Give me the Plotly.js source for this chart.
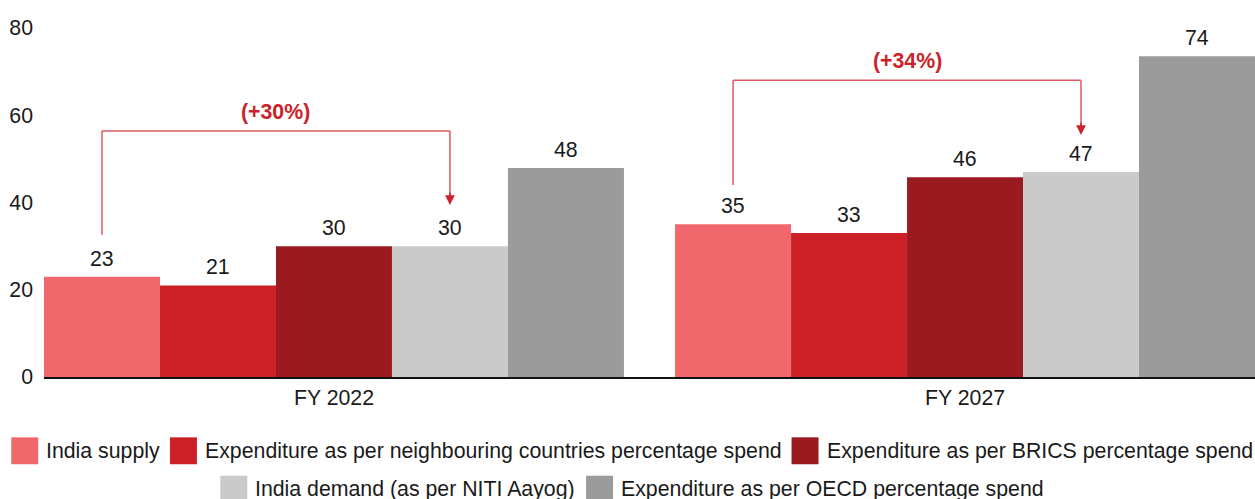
<!DOCTYPE html>
<html>
<head>
<meta charset="utf-8">
<script src="https://cdn.plot.ly/plotly-3.0.1.min.js"></script>
<style>html,body{margin:0;padding:0;background:#fff;}#chart{width:1255px;height:499px;}</style>
</head>
<body>
<div id="chart"></div>
<script>
// ---- data ----
const categories = ['FY 2022', 'FY 2027'];
const seriesNames = [
  'India supply',
  'Expenditure as per neighbouring countries percentage spend',
  'Expenditure as per BRICS percentage spend',
  'India demand (as per NITI Aayog)',
  'Expenditure as per OECD percentage spend'
];
const indiaSupply = [23, 35];
const neighbourSpend = [21, 33];
const bricsSpend = [30, 45.8];
const indiaDemand = [30, 47];
const oecdSpend = [47.9, 73.5];
const seriesColors = ['#f0686b', '#cc2027', '#9a1a20', '#cacaca', '#9b9b9b'];
const growthLabels = ['(+30%)', '(+34%)'];
const yTicks = [0, 20, 40, 60, 80];

const seriesValues = [indiaSupply, neighbourSpend, bricsSpend, indiaDemand, oecdSpend];

// ---- layout geometry ----
const W = 1255, H = 499;
const M = {l: 44, r: 0, t: 27.5, b: 121.5};
const plotW = W - M.l - M.r, plotH = H - M.t - M.b;
const groupW = 0.919;               // fraction of category occupied by bars
const nS = seriesValues.length;
const FONT = 'Liberation Sans, Arial, sans-serif';
const FS = 21.3;
const TXT = '#1a1a1a';

function barX(cat, s) { return cat - groupW / 2 + (s + 0.5) * groupW / nS; }
function pxToPaperX(px) { return (px - M.l) / plotW; }
function pxToPaperY(py) { return (H - M.b - py) / plotH; }

const traces = seriesValues.map((vals, s) => ({
  type: 'bar',
  name: seriesNames[s],
  x: categories,
  y: vals,
  marker: {color: seriesColors[s], line: {width: 0}},
  hoverinfo: 'skip'
}));

const annotations = [];
const shapes = [];

// value labels
seriesValues.forEach((vals, s) => {
  vals.forEach((v, c) => {
    annotations.push({
      x: barX(c, s), y: v, xref: 'x', yref: 'y',
      text: String(Math.round(v)), showarrow: false, yanchor: 'bottom', yshift: 4,
      font: {family: FONT, size: FS, color: TXT}
    });
  });
});

// growth brackets: India supply -> India demand
const bracketLift = [9.6, 9.0];   // start offset above supply bar
const tipLift = [9.4, 8.5];       // arrow tip offset above demand bar
const bracketTop = [56.4, 68.0];
const lineCol = '#dd5a62';
for (let c = 0; c < categories.length; c++) {
  const x1 = barX(c, 0), x2 = barX(c, 3);
  const yStart = indiaSupply[c] + bracketLift[c];
  const yTip = indiaDemand[c] + tipLift[c];
  const top = bracketTop[c];
  const ln = {color: lineCol, width: 1.5};
  shapes.push({type: 'line', xref: 'x', yref: 'y', x0: x1, x1: x1, y0: yStart, y1: top, line: ln});
  shapes.push({type: 'line', xref: 'x', yref: 'y', x0: x1, x1: x2, y0: top, y1: top, line: ln});
  shapes.push({type: 'line', xref: 'x', yref: 'y', x0: x2, x1: x2, y0: top, y1: yTip + 2, line: ln});
  annotations.push({
    x: x2, y: yTip, xref: 'x', yref: 'y', text: '', showarrow: true,
    ax: 0, ay: -14, arrowhead: 2, arrowsize: 1.3, arrowwidth: 1.5, arrowcolor: '#cc2229'
  });
  annotations.push({
    x: (x1 + x2) / 2, y: top, xref: 'x', yref: 'y', text: '<b>' + growthLabels[c] + '</b>',
    showarrow: false, yanchor: 'bottom', yshift: 5,
    font: {family: FONT, size: FS, color: '#cc2229'}
  });
}

// custom legend (large square swatches)
const cv = document.createElement('canvas').getContext('2d');
cv.font = FS + 'px "Liberation Sans", Arial, sans-serif';
const SW = 27, TGAP = 7, IGAP = 11, CENTER = 631.5;
const rows = [{items: [0, 1, 2], y: 451.5}, {items: [3, 4], y: 490}];
rows.forEach(row => {
  const widths = row.items.map(i => cv.measureText(seriesNames[i]).width);
  const total = widths.reduce((a, w) => a + SW + TGAP + w, 0) + IGAP * (row.items.length - 1);
  let x = CENTER - total / 2;
  row.items.forEach((i, k) => {
    shapes.push({
      type: 'rect', xref: 'paper', yref: 'paper',
      x0: pxToPaperX(x), x1: pxToPaperX(x + SW),
      y0: pxToPaperY(row.y + SW / 2), y1: pxToPaperY(row.y - SW / 2),
      fillcolor: seriesColors[i], line: {width: 0}
    });
    annotations.push({
      xref: 'paper', yref: 'paper', x: pxToPaperX(x + SW + TGAP - 1), y: pxToPaperY(row.y),
      xanchor: 'left', yanchor: 'middle', showarrow: false, text: seriesNames[i],
      font: {family: FONT, size: FS, color: TXT}
    });
    x += SW + TGAP + widths[k] + IGAP;
  });
});

const layout = {
  width: W, height: H,
  margin: M,
  paper_bgcolor: '#fff', plot_bgcolor: '#fff',
  barmode: 'group', bargap: 1 - groupW, bargroupgap: 0,
  showlegend: false,
  font: {family: FONT, size: FS, color: TXT},
  xaxis: {
    type: 'category', range: [-groupW / 2, categories.length - 1 + groupW / 2],
    showline: true, linecolor: '#111', linewidth: 2, ticks: '', showgrid: false, zeroline: false,
    tickfont: {family: FONT, size: FS, color: TXT}, fixedrange: true
  },
  yaxis: {
    range: [0, 80], tickvals: yTicks, ticktext: yTicks.map(String),
    showgrid: false, zeroline: false, showline: false, ticks: '',
    ticklabelstandoff: 10,
    tickfont: {family: FONT, size: FS, color: TXT}, fixedrange: true
  },
  shapes: shapes,
  annotations: annotations
};

Plotly.newPlot('chart', traces, layout, {displayModeBar: false, staticPlot: true});
</script>
</body>
</html>
